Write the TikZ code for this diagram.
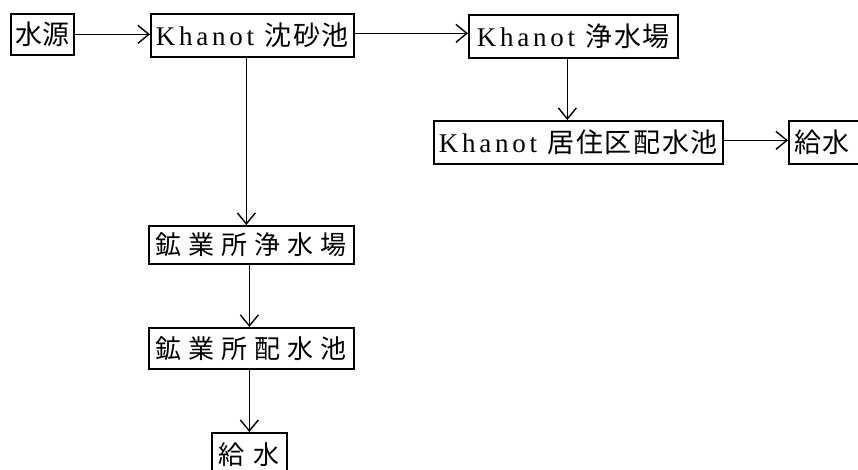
\documentclass[tikz,border=0pt]{standalone}
\usepackage{fontspec}
\setmainfont{Liberation Serif}
\newfontfamily\cjk{Noto Sans CJK JP}
\newfontfamily\cjks[LetterSpace=6]{Noto Sans CJK JP}
\newfontfamily\lat[LetterSpace=14]{Liberation Serif}
\usetikzlibrary{arrows.meta}
\begin{document}
\begin{tikzpicture}[x=1pt,y=-1pt,
  box/.style={draw, line width=1.7pt, inner sep=0pt, anchor=north west, align=center},
  arr/.style={line width=1.4pt, -{Straight Barb[length=11pt,width=18pt,line width=1.4pt]}},
  big/.style={font=\fontsize{27}{27}\selectfont},
  mid/.style={font=\fontsize{26}{26}\selectfont}]
\useasboundingbox (0,0) rectangle (858,469);
\clip (0,0) rectangle (858,469);
\fill[white] (0,0) rectangle (858,469);
% row 1
\node[box, big, minimum width=63pt, minimum height=41pt] (src) at (10,13) {\cjk 水源};
\node[box, big, minimum width=203pt, minimum height=43pt] (sed) at (150,13) {\lat Khanot\ \cjks 沈砂池};
\node[box, big, minimum width=209pt, minimum height=43pt] (kjs) at (468,14) {\lat Khanot\ \cjks 浄水場};
% row 2
\node[box, big, minimum width=289pt, minimum height=43pt] (kdp) at (433,120) {\lat Khanot\ \cjks 居住区配水池};
\node[box, big, minimum width=80pt, minimum height=43pt] (ks) at (788,120) {\hspace*{-14pt}\cjks 給水};
% mine column
\node[box, mid, minimum width=205pt, minimum height=38pt] (mjs) at (148,225) {\cjk 鉱\hspace{7pt}業\hspace{7pt}所\hspace{7pt}浄\hspace{7pt}水\hspace{7pt}場};
\node[box, mid, minimum width=205pt, minimum height=41pt] (mdp) at (148,327) {\cjk 鉱\hspace{7pt}業\hspace{7pt}所\hspace{7pt}配\hspace{7pt}水\hspace{7pt}池};
\node[box, mid, minimum width=75pt, minimum height=50pt] (ms) at (211,432) {\raisebox{8pt}{\cjk 給\hspace{9pt}水}};
% connectors
\draw[arr] (src.east) -- (src.east -| sed.west);
\draw[arr] ([yshift=2pt]sed.east) -- ([yshift=2pt]sed.east -| kjs.west);
\draw[arr] ([xshift=-6pt]sed.south) -- ([xshift=-6pt]sed.south |- mjs.north);
\draw[arr] ([xshift=-6pt]kjs.south) -- ([xshift=-6pt]kjs.south |- kdp.north);
\draw[arr] ([yshift=2pt]kdp.east) -- ([yshift=2pt]kdp.east -| ks.west);
\draw[arr] ([xshift=-2pt]mjs.south) -- ([xshift=-2pt]mjs.south |- mdp.north);
\draw[arr] ([xshift=-2pt]mdp.south) -- ([xshift=-2pt]mdp.south |- ms.north);
\end{tikzpicture}
\end{document}
